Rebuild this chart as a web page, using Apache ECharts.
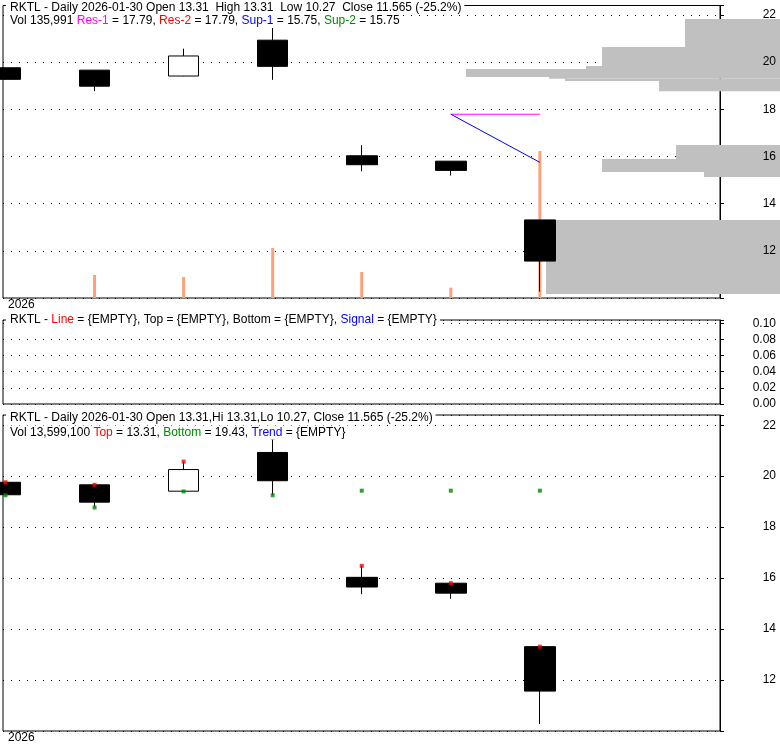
<!DOCTYPE html>
<html>
<head>
<meta charset="utf-8">
<script src="https://cdn.jsdelivr.net/npm/echarts@6/dist/echarts.min.js"></script>
<style>html,body{margin:0;padding:0;background:#fff;}#c{width:780px;height:745px;}</style>
</head>
<body>
<div id="c"></div>
<script>
// ---- data ----
const dates = ['2026-01-22','2026-01-23','2026-01-26','2026-01-27','2026-01-28','2026-01-29','2026-01-30','2026-02-02','2026-02-03'];
const openP  = [19.76, 19.66, 19.41, 20.93, 16.03, 15.80, 13.31];
const closeP = [19.27, 18.98, 20.26, 19.82, 15.65, 15.41, 11.565];
const lowP   = [19.25, 18.77, 19.40, 19.25, 15.37, 15.19, 10.27];
const highP  = [19.76, 19.66, 20.57, 21.50, 16.48, 15.80, 13.31];
const volume = [null, 2130000, 1940000, 4630000, 2410000, 950000, 13599100];
const resLine = [null, null, null, null, null, 17.79, 17.79, null, null];
const supLine = [null, null, null, null, null, 17.79, 15.75, null, null];
const topMarks    = [19.76, 19.66, 20.57, 21.50, 16.48, 15.80, 13.31];
const bottomMarks = [19.25, 18.77, 19.40, 19.25, 19.43, 19.43, 19.43];
// volume-at-price profile (millions)
const profileLow  = [20.64, 19.84, 19.71, 19.37, 19.30, 19.20, 18.76, 15.89, 15.34, 15.13, 10.17];
const profileHigh = [21.83, 20.64, 19.84, 19.71, 19.37, 19.30, 19.20, 16.49, 15.89, 15.34, 13.31];
const profileVol  = [4.75, 8.9, 9.7, 15.7, 11.55, 10.75, 6.05, 5.2, 8.9, 3.8, 11.7];
const priceTicks = [12, 14, 16, 18, 20, 22];
const oscTicks = [0, 0.02, 0.04, 0.06, 0.08, 0.10];

// ---- chart ----
const FONT = '"Liberation Sans", Arial, sans-serif';
const chart = echarts.init(document.getElementById('c'), null, {renderer: 'canvas'});
const dotted = {show: true, lineStyle: {type: [1, 7], color: '#000', width: 1}};
const candleData = openP.map((o, i) => [o, closeP[i], lowP[i], highP[i]]);

function priceFmt(v) {
  const r = Math.round(v);
  return (Math.abs(v - r) < 1e-6 && priceTicks.indexOf(r) >= 0) ? String(r) : '';
}
function oscFmt(v) {
  for (const t of oscTicks) if (Math.abs(v - t) < 1e-9) return t.toFixed(2);
  return '';
}
const lblBase = {fontSize: 12, fontFamily: FONT, color: '#000', align: 'right', margin: 56};

function priceAxis(grid, showLabels) {
  return {
    type: 'value', gridIndex: grid, position: 'right', min: 10, max: 22.4, interval: 2,
    axisLine: {show: true, lineStyle: {color: '#000', width: 1}},
    axisTick: {show: true, length: 4, inside: false, lineStyle: {color: '#000'}},
    splitLine: dotted,
    axisLabel: showLabels ? Object.assign({formatter: priceFmt}, lblBase) : {show: false}
  };
}
function hiddenPrice(grid) {
  return {type: 'value', gridIndex: grid, position: 'right', min: 10, max: 22.4, show: false, splitLine: {show: false}};
}
function catAxis(grid, showYear) {
  return {
    type: 'category', gridIndex: grid, data: dates, boundaryGap: false,
    axisLine: {show: false}, axisTick: {show: false}, splitLine: {show: false},
    axisLabel: showYear ? {
      show: true, interval: 0, margin: 1, align: 'left', padding: [0, 0, 0, 5],
      fontSize: 12, fontFamily: FONT, color: '#000',
      formatter: (v, i) => i === 0 ? '2026' : ''
    } : {show: false}
  };
}
function dataCat(grid) {
  return {type: 'category', gridIndex: grid, data: dates, boundaryGap: false, show: false};
}
const tStyle = {fontSize: 12, fontFamily: FONT, color: '#000', fontWeight: 'normal', lineHeight: 14};
function rs(color) { return {color: color, fontSize: 12, fontFamily: FONT, lineHeight: 14}; }
function titleAt(text, top) {
  return {text: text, left: 6, top: top, padding: [0, 3, 0, 4], backgroundColor: '#fff',
    textStyle: Object.assign({rich: {m: rs('#ff00ff'), r: rs('#ff0000'), b: rs('#0000ff'), g: rs('#008800')}}, tStyle)};
}
const frame = {show: true, borderColor: '#000', borderWidth: 1, backgroundColor: 'transparent'};

const option = {
  animation: false,
  backgroundColor: '#fff',
  title: [
    titleAt('RKTL - Daily 2026-01-30 Open 13.31  High 13.31  Low 10.27  Close 11.565 (-25.2%)', 0.5),
    titleAt('Vol 135,991 {m|Res-1} = 17.79, {r|Res-2} = 17.79, {b|Sup-1} = 15.75, {g|Sup-2} = 15.75', 14),
    titleAt('RKTL - {r|Line} = {EMPTY}, Top = {EMPTY}, Bottom = {EMPTY}, {b|Signal} = {EMPTY}', 313),
    titleAt('RKTL - Daily 2026-01-30 Open 13.31,Hi 13.31,Lo 10.27, Close 11.565 (-25.2%)', 411),
    titleAt('Vol 13,599,100 {r|Top} = 13.31, {g|Bottom} = 19.43, {b|Trend} = {EMPTY}', 425.5)
  ],
  grid: [
    Object.assign({left: 3, right: 60, top: 5.5, height: 292.5}, frame),
    Object.assign({left: 3, right: 60, top: 320, height: 84}, frame),
    Object.assign({left: 3, right: 60, top: 415, height: 316}, frame),
    {left: 0, right: 0, top: 5.5, height: 292.5, show: false},
    {left: 5.5, right: 62, top: 5.5, height: 292.5, show: false},
    {left: 5.5, right: 62, top: 415, height: 316, show: false}
  ],
  xAxis: [
    catAxis(0, true),
    catAxis(1, false),
    catAxis(2, true),
    {type: 'value', gridIndex: 3, inverse: true, min: 0, max: 39, show: false},
    dataCat(4),
    dataCat(5)
  ],
  yAxis: [
    priceAxis(0, false),
    {type: 'value', gridIndex: 4, min: 0, max: 27060000, show: false, splitLine: {show: false}},
    {
      type: 'value', gridIndex: 1, position: 'right', min: 0, max: 0.104, interval: 0.02,
      axisLine: {show: true, lineStyle: {color: '#000'}},
      axisTick: {show: true, length: 4, lineStyle: {color: '#000'}},
      splitLine: dotted,
      axisLabel: Object.assign({formatter: oscFmt}, lblBase)
    },
    priceAxis(2, true),
    hiddenPrice(3),
    {
      type: 'value', gridIndex: 0, position: 'right', min: 10, max: 22.4, interval: 2, z: 10,
      axisLine: {show: false}, axisTick: {show: false}, splitLine: {show: false},
      axisLabel: Object.assign({formatter: priceFmt}, lblBase)
    },
    hiddenPrice(4),
    hiddenPrice(5)
  ],
  series: [
    {
      type: 'custom', xAxisIndex: 3, yAxisIndex: 4, z: 1, silent: true,
      data: profileVol.map((v, i) => [v, profileLow[i], profileHigh[i]]),
      encode: {x: 0, y: [1, 2]},
      renderItem: function (params, api) {
        const a = api.coord([api.value(0), api.value(2)]);
        const b = api.coord([0, api.value(1)]);
        return {type: 'rect', shape: {x: Math.min(a[0], b[0]), y: a[1], width: Math.abs(b[0] - a[0]), height: b[1] - a[1]},
          style: {fill: '#c0c0c0'}};
      }
    },
    {
      type: 'bar', xAxisIndex: 4, yAxisIndex: 1, data: volume, barWidth: 3, z: 2,
      itemStyle: {color: '#ffa07a'}
    },
    {
      type: 'candlestick', xAxisIndex: 4, yAxisIndex: 6, data: candleData, barWidth: 31, clip: false, z: 3,
      itemStyle: {color: '#ffffff', color0: '#000000', borderColor: '#000000', borderColor0: '#000000', borderWidth: 1}
    },
    {
      type: 'line', xAxisIndex: 4, yAxisIndex: 6, data: resLine, showSymbol: false, z: 4,
      lineStyle: {color: '#ff00ff', width: 1}, itemStyle: {color: '#ff00ff'}
    },
    {
      type: 'line', xAxisIndex: 4, yAxisIndex: 6, data: supLine, showSymbol: false, z: 4,
      lineStyle: {color: '#0000ff', width: 1}, itemStyle: {color: '#0000ff'}
    },
    {
      type: 'candlestick', xAxisIndex: 5, yAxisIndex: 7, data: candleData, barWidth: 31, clip: false, z: 3,
      itemStyle: {color: '#ffffff', color0: '#000000', borderColor: '#000000', borderColor0: '#000000', borderWidth: 1}
    },
    {
      type: 'scatter', xAxisIndex: 5, yAxisIndex: 7, data: topMarks, symbol: 'rect', symbolSize: 4, z: 5,
      itemStyle: {color: '#ff0000'}
    },
    {
      type: 'scatter', xAxisIndex: 5, yAxisIndex: 7, data: bottomMarks, symbol: 'rect', symbolSize: 4, z: 5,
      itemStyle: {color: '#008800'}
    }
  ]
};
chart.setOption(option);
</script>
</body>
</html>
